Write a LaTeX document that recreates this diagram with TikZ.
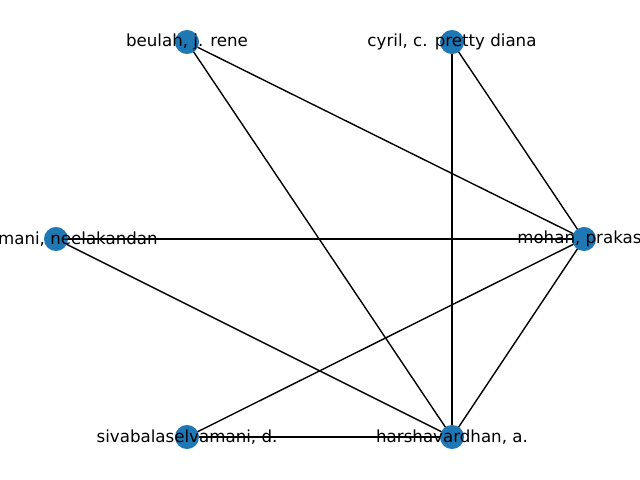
\documentclass[tikz,border=0pt]{standalone}
\usepackage{fontspec}
\setmainfont{DejaVu Sans}
\definecolor{nxblue}{HTML}{1F77B4}
\begin{document}
\begin{tikzpicture}[x=0.72pt,y=-0.72pt,
  vert/.style={circle,fill=nxblue,inner sep=0pt,minimum size=17.3pt},
  lab/.style={font=\fontsize{12pt}{14pt}\selectfont,inner sep=0pt,text=black},
  edge/.style={black,line width=1pt}]
\useasboundingbox (0,0) rectangle (640,480);
\clip (0,0) rectangle (640,480);
\coordinate (pb) at (187,42);
\coordinate (pc) at (452,42);
\coordinate (pm) at (56,239);
\coordinate (ph) at (584,239);
\coordinate (ps) at (187,437);
\coordinate (pa) at (452,437);
\draw[edge] (pb) -- (ph);
\draw[edge] (pb) -- (pa);
\draw[edge] (pc) -- (ph);
\draw[edge] (pc) -- (pa);
\draw[edge] (pm) -- (ph);
\draw[edge] (pm) -- (pa);
\draw[edge] (ph) -- (ps);
\draw[edge] (ph) -- (pa);
\draw[edge] (ps) -- (pa);
\node[vert] (b) at (pb) {};
\node[vert] (c) at (pc) {};
\node[vert] (m) at (pm) {};
\node[vert] (h) at (ph) {};
\node[vert] (s) at (ps) {};
\node[vert] (a) at (pa) {};
\node[lab] (lb) at (pb) {beulah, j. rene};
\node[lab] (lc) at (pc) {cyril, c. pretty diana};
\node[lab,anchor=east] (lm) at (158,239) {mani, neelakandan};
\node[lab,anchor=west] (lh) at (517,239) {mohan, prakas};
\node[lab] (ls) at (ps) {sivabalaselvamani, d.};
\node[lab] (la) at (pa) {harshavardhan, a.};
\end{tikzpicture}
\end{document}
